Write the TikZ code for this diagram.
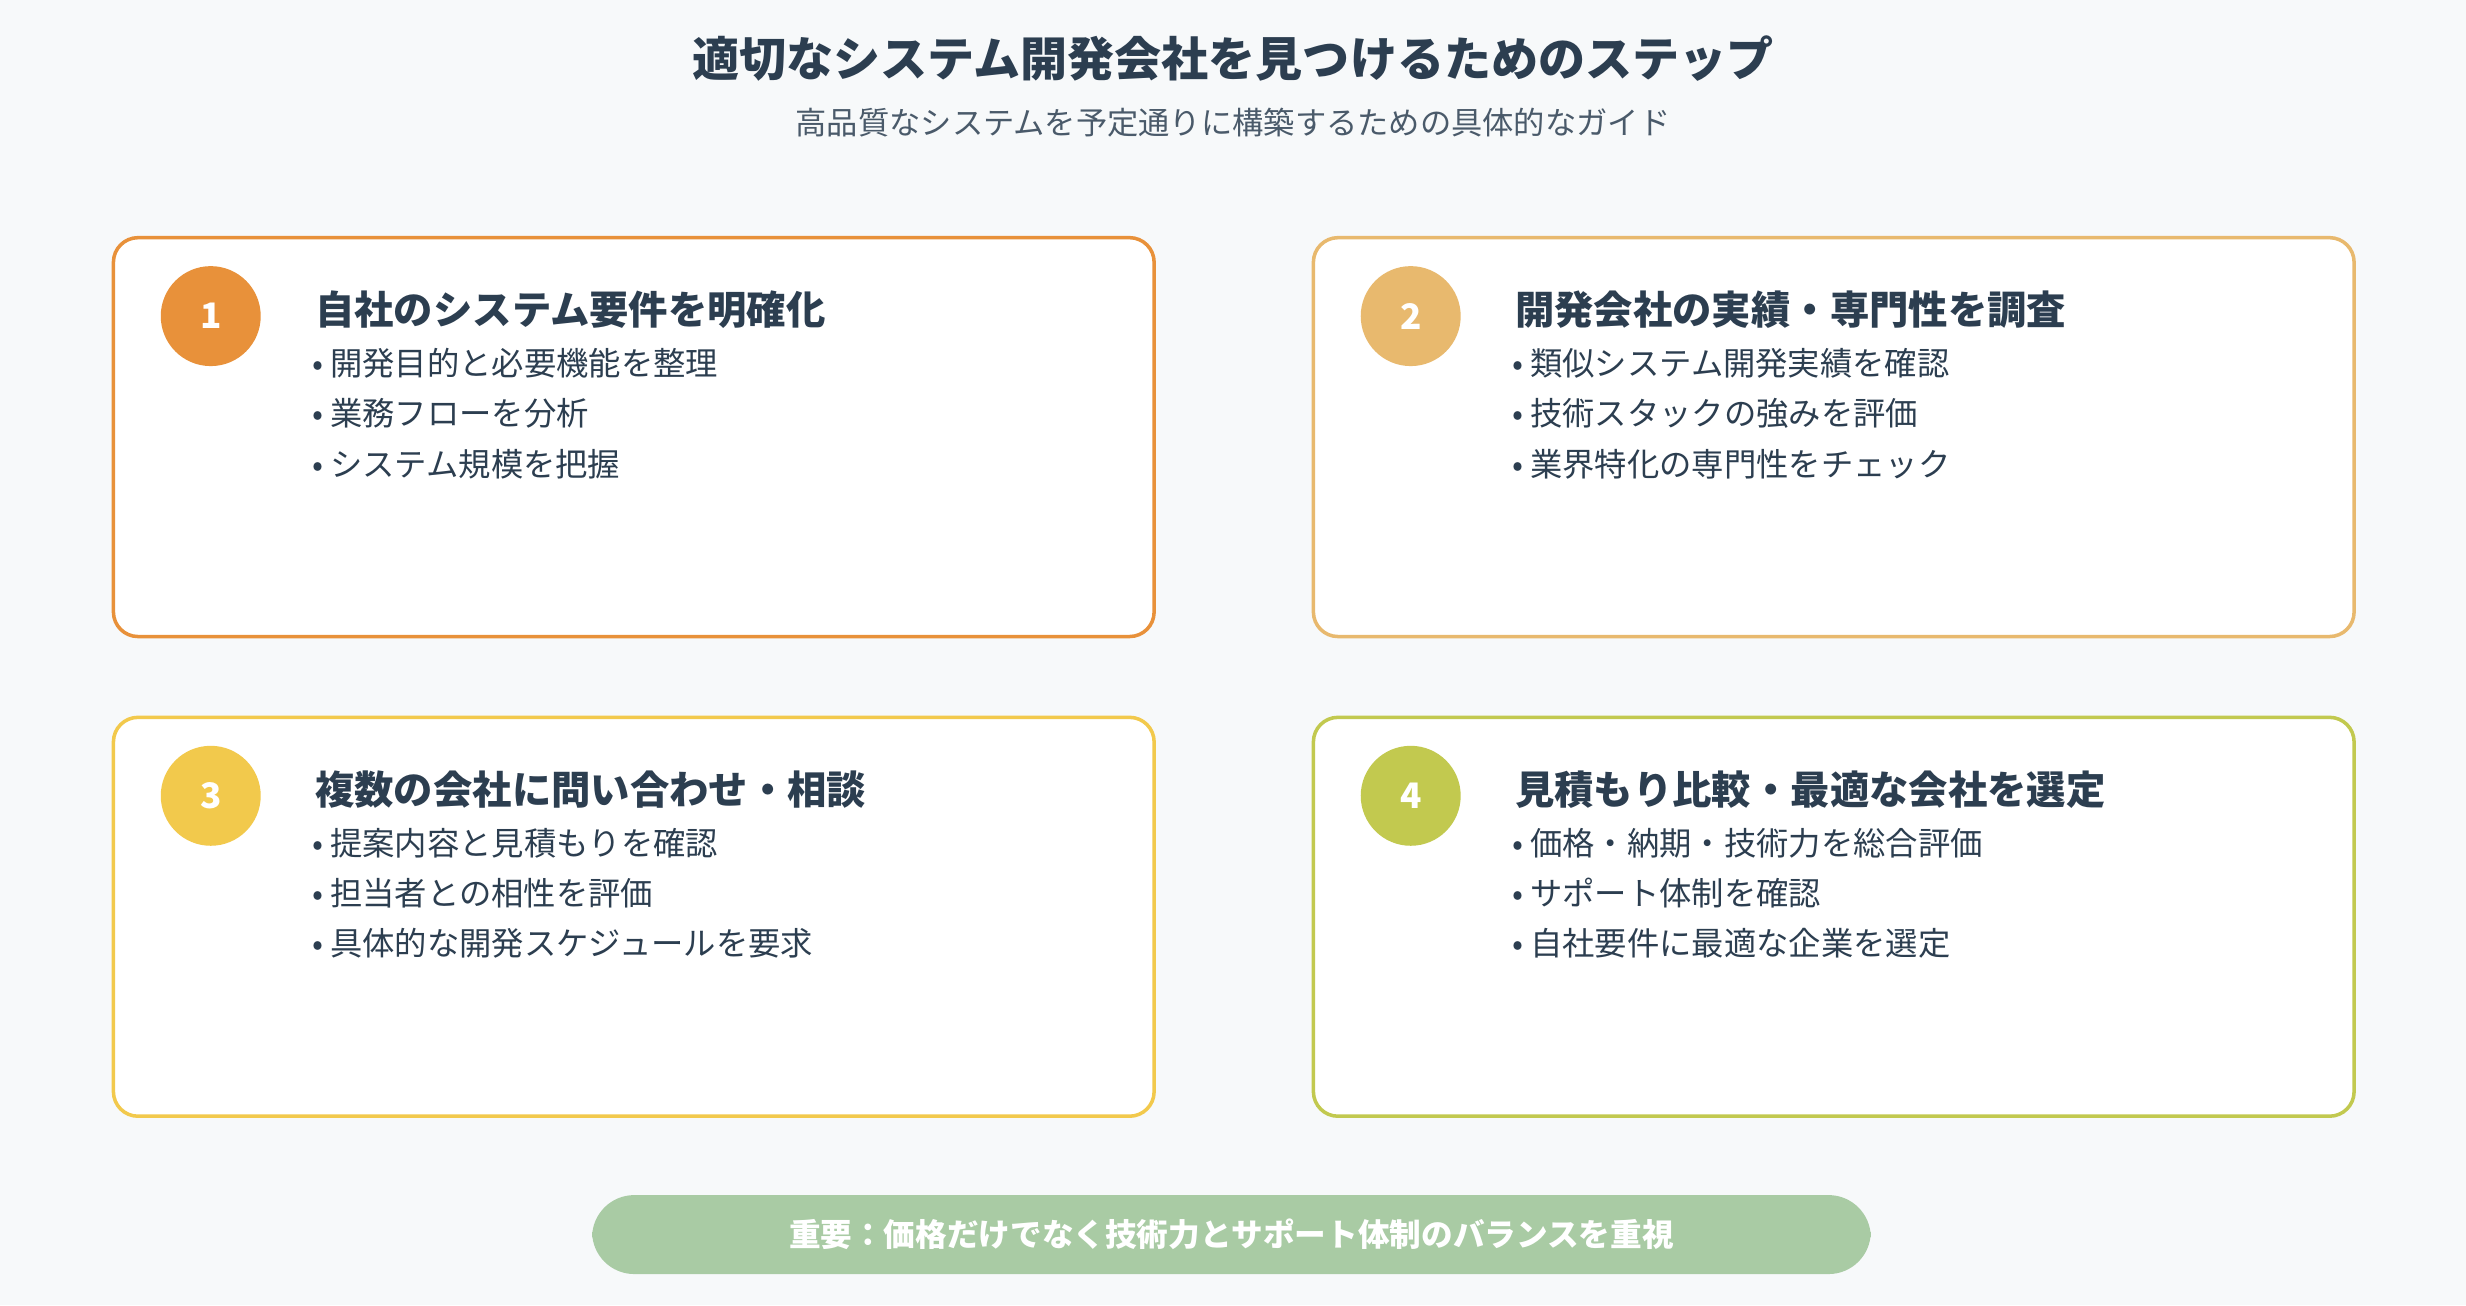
\documentclass[tikz,border=0pt]{standalone}
\usepackage{fontspec}
\setmainfont{Noto Sans CJK JP}
\usetikzlibrary{positioning}
\definecolor{bgc}{HTML}{F7F9FA}
\definecolor{ink}{HTML}{2C3E50}
\definecolor{subink}{HTML}{4A5A6A}
\definecolor{cone}{HTML}{E8913A}
\definecolor{ctwo}{HTML}{E8B96E}
\definecolor{cthree}{HTML}{F2C94C}
\definecolor{cfour}{HTML}{C2C94F}
\definecolor{pill}{HTML}{A9CBA4}
\tikzset{
  card/.style={draw=#1,line width=1pt,fill=white,rounded corners=7pt,minimum width=10.41cm,minimum height=3.99cm,anchor=north west},
  badge/.style={circle,fill=#1,minimum size=1.0cm,inner sep=0pt,text=white,font=\bfseries\fontsize{10}{12}\selectfont},
  heading/.style={anchor=west,inner sep=0pt,text=ink,font=\bfseries\fontsize{11.2}{13}\selectfont},
  item/.style={anchor=west,inner sep=0pt,text=ink,font=\fontsize{9.2}{11}\selectfont}
}
\begin{document}
\begin{tikzpicture}[x=0.015727cm,y=-0.015727cm]
\fill[bgc] (0,0) rectangle (1568,830);
\useasboundingbox (0,0) rectangle (1568,830);

\node[text=ink,font=\bfseries\fontsize{13.4}{16}\selectfont] (title) at (784,37) {適切なシステム開発会社を見つけるためのステップ};
\node[text=subink,font=\fontsize{8.9}{11}\selectfont] (subtitle) at (784,78) {高品質なシステムを予定通りに構築するための具体的なガイド};

\foreach \n/\x/\y/\c/\head/\ia/\ib/\ic in {
  1/71/150/cone/自社のシステム要件を明確化/開発目的と必要機能を整理/業務フローを分析/システム規模を把握,
  2/834/150/ctwo/開発会社の実績・専門性を調査/類似システム開発実績を確認/技術スタックの強みを評価/業界特化の専門性をチェック,
  3/71/455/cthree/複数の会社に問い合わせ・相談/提案内容と見積もりを確認/担当者との相性を評価/具体的な開発スケジュールを要求,
  4/834/455/cfour/見積もり比較・最適な会社を選定/価格・納期・技術力を総合評価/サポート体制を確認/自社要件に最適な企業を選定}
{
  \node[card=\c] (card\n) at (\x,\y) {};
  \node[badge=\c] (num\n) at (\x+63,\y+51) {\n};
  \node[heading] (head\n) at (\x+129,\y+47) {\head};
  \node[item] (itema\n) at (\x+127,\y+81) {• \ia};
  \node[item] (itemb\n) at (\x+127,\y+113) {• \ib};
  \node[item] (itemc\n) at (\x+127,\y+145) {• \ic};
}

\node[fill=pill,rounded corners=12pt,minimum width=12.79cm,minimum height=0.79cm,text=white,font=\bfseries\fontsize{9}{11}\selectfont] (note) at (783,785) {重要：価格だけでなく技術力とサポート体制のバランスを重視};
\end{tikzpicture}
\end{document}
